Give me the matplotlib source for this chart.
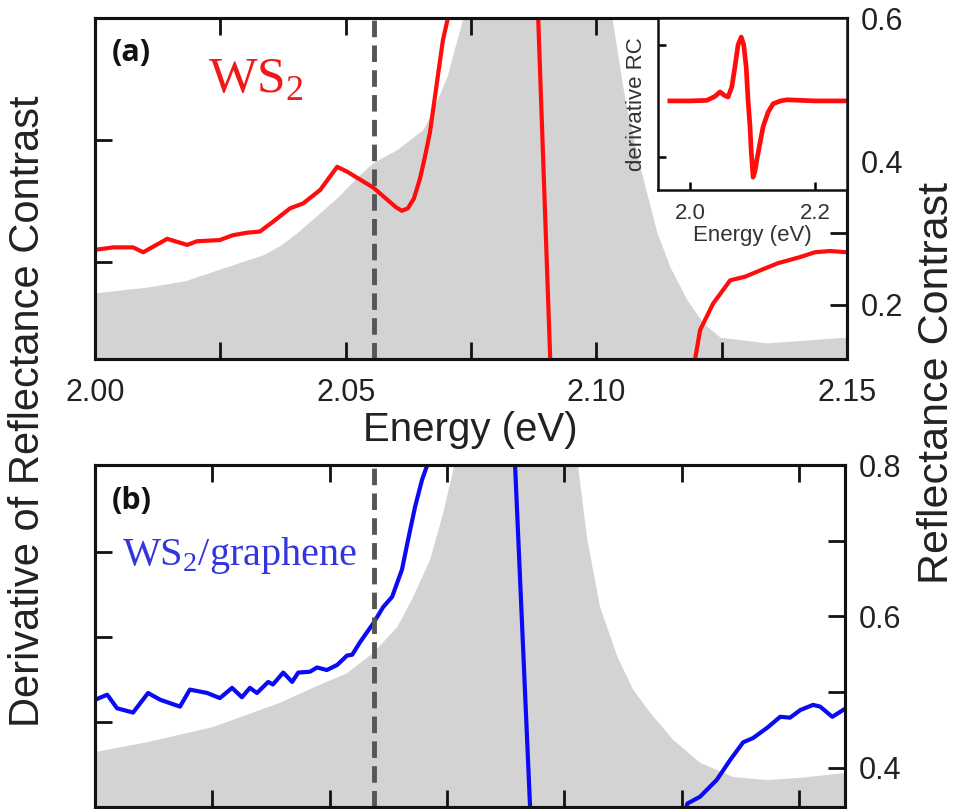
import matplotlib
matplotlib.use("Agg")
import matplotlib.pyplot as plt
from matplotlib.ticker import FixedLocator, NullFormatter

plt.rcParams['font.family'] = ['Liberation Sans', 'DejaVu Sans']
plt.rcParams['mathtext.fontset'] = 'custom'

# ---------------- data ----------------
# Panel (a): WS2
E_gray_top = [2.0, 2.0104, 2.0181, 2.0235, 2.0335, 2.0369, 2.0403, 2.0449, 2.0489, 2.0523,
              2.0555, 2.0602, 2.0654, 2.0674, 2.0702, 2.0722, 2.0734, 2.078, 2.088, 2.098,
              2.1031, 2.1057, 2.1087, 2.1121, 2.1147, 2.1181, 2.1213, 2.1247, 2.134, 2.1496,
              2.15]
R_gray_top = [0.217, 0.225, 0.234, 0.247, 0.270, 0.283, 0.301, 0.329, 0.354, 0.379,
              0.399, 0.417, 0.445, 0.473, 0.519, 0.571, 0.601, 0.75, 0.95, 0.75,
              0.601, 0.487, 0.393, 0.301, 0.253, 0.207, 0.175, 0.155, 0.147, 0.155,
              0.155]

E_red_top = [2.0000, 2.0036, 2.0076, 2.0096, 2.0144, 2.0184, 2.0203, 2.0249, 2.0275, 2.0303,
             2.0329, 2.0355, 2.0389, 2.0415, 2.0449, 2.0483, 2.0503, 2.0555, 2.0600, 2.0612,
             2.0624, 2.0636, 2.0648, 2.0658, 2.0668, 2.0682, 2.0694, 2.0704, 2.0720, 2.0780,
             2.0874, 2.0918, 2.1000, 2.1120, 2.1180, 2.1207, 2.1233, 2.1267, 2.1297, 2.1326,
             2.1362, 2.1406, 2.1436, 2.1466, 2.1500]
D_red_top = [0.10, 0.12, 0.12, 0.08, 0.19, 0.14, 0.17, 0.18, 0.22, 0.24,
             0.25, 0.33, 0.44, 0.48, 0.59, 0.78, 0.74, 0.61, 0.45, 0.42,
             0.44, 0.52, 0.68, 0.86, 1.06, 1.47, 1.82, 2.00, 2.6, 5.0,
             3.165, -1.96, -8.0, -4.0, -1.2, -0.557, -0.34, -0.15, -0.12, -0.07,
             -0.01, 0.04, 0.08, 0.09, 0.08]

# Inset: derivative RC over a wide range
E_inset = [1.968, 2.000, 2.027, 2.040, 2.048, 2.055, 2.061, 2.067, 2.072, 2.077,
           2.082, 2.086, 2.090, 2.093, 2.096, 2.098, 2.101, 2.104, 2.107, 2.112,
           2.117, 2.125, 2.133, 2.145, 2.155, 2.200, 2.251]
D_inset = [0.0, 0.0, 0.01, 0.08, 0.16, 0.10, 0.07, 0.25, 0.61, 1.0,
           1.14, 1.0, 0.6, 0.0, -0.45, -0.9, -1.36, -1.25, -1.05, -0.75,
           -0.46, -0.2, -0.05, 0.0, 0.02, 0.0, 0.0]

# Panel (b): WS2/graphene
E_gray_bot = [2.0, 2.0111, 2.0251, 2.0394, 2.0465, 2.0537, 2.0593, 2.0644, 2.0678, 2.0714,
              2.0742, 2.0763, 2.080, 2.090, 2.100, 2.1029, 2.1049, 2.1076, 2.1113, 2.1147,
              2.1183, 2.1232, 2.1289, 2.1360, 2.1432, 2.1503, 2.1594, 2.1598]
R_gray_bot = [0.421, 0.434, 0.454, 0.486, 0.506, 0.525, 0.552, 0.586, 0.626, 0.675,
              0.737, 0.793, 0.95, 1.1, 0.95, 0.80, 0.701, 0.613, 0.547, 0.503,
              0.473, 0.437, 0.407, 0.388, 0.384, 0.387, 0.393, 0.393]

E_blue = [2.0000, 2.0026, 2.0047, 2.0081, 2.0113, 2.0139, 2.0181, 2.0202, 2.0239, 2.0266,
          2.0292, 2.0313, 2.0330, 2.0345, 2.0369, 2.0379, 2.0401, 2.0420, 2.0433, 2.0458,
          2.0473, 2.0494, 2.0516, 2.0537, 2.0548, 2.0565, 2.0593, 2.0614, 2.0633, 2.0654,
          2.0667, 2.0682, 2.0697, 2.0708, 2.0740, 2.0800, 2.0885, 2.0937, 2.1000, 2.1150,
          2.1240, 2.1262, 2.1289, 2.1325, 2.1353, 2.1381, 2.1402, 2.1432, 2.1460, 2.1481,
          2.1503, 2.1530, 2.1545, 2.1571, 2.1594]
D_blue = [0.26, 0.32, 0.16, 0.11, 0.34, 0.26, 0.18, 0.38, 0.34, 0.28,
          0.40, 0.29, 0.40, 0.34, 0.47, 0.44, 0.58, 0.47, 0.58, 0.59,
          0.64, 0.61, 0.67, 0.78, 0.79, 0.94, 1.16, 1.35, 1.47, 1.79,
          2.14, 2.53, 2.85, 3.02, 4.0, 6.0, 4.28, -2.26, -8.0, -5.0,
          -1.5, -0.96, -0.88, -0.68, -0.45, -0.24, -0.19, -0.07, 0.06, 0.05,
          0.14, 0.20, 0.18, 0.06, 0.14]

E_dash_top = 2.0557
E_dash_bot = 2.0594

x_major_top = [2.00, 2.05, 2.10, 2.15]
x_labels_top = ['2.00', '2.05', '2.10', '2.15']
x_minor = [2.025, 2.075, 2.125]
x_major_bot = [2.05, 2.10, 2.15]

GRAY = '#d3d3d3'
TXT = '#222222'
SPW = 2.2

def style_ax(ax):
    for s in ax.spines.values():
        s.set_linewidth(SPW)
        s.set_color('#111111')

fig = plt.figure(figsize=(9.59, 8.09), dpi=100)

# ---------------- panel (a) ----------------
axR1 = fig.add_axes([0.0991, 0.5562, 0.7841, 0.4216])
axR1.fill_between(E_gray_top, R_gray_top, 0, color=GRAY, lw=0)
axR1.set_xlim(2.0, 2.15)
axR1.set_ylim(0.1245, 0.601)
axL1 = axR1.twinx()
axR1.yaxis.tick_right()
axL1.yaxis.tick_left()
axL1.plot(E_red_top, D_red_top, color='#ff0d0d', lw=3.0, solid_joinstyle='round')
axL1.axvline(E_dash_top, color='#555555', lw=3.5, ls=(0, (3.4, 1.7)))
axL1.set_ylim(-0.795, 2.0)
axL1.set_yticks([0, 1, 2])
axL1.set_yticklabels([])

axR1.xaxis.set_major_locator(FixedLocator(x_major_top))
axR1.set_xticklabels(x_labels_top)
axR1.xaxis.set_minor_locator(FixedLocator(x_minor))
axR1.set_yticks([0.2, 0.4, 0.6])
axR1.set_yticklabels(['0.2', '0.4', '0.6'])
axR1.yaxis.set_minor_locator(FixedLocator([0.3, 0.5]))
for ax in (axR1, axL1):
    ax.tick_params(which='both', direction='in', length=12, width=2.0, colors='#111111',
                   labelsize=22, labelcolor=TXT, pad=10)
axR1.tick_params(axis='x', which='both', top=True, bottom=True, pad=14)
style_ax(axR1); style_ax(axL1)

# ---------------- panel (b) ----------------
axR2 = fig.add_axes([0.0991, 0.0025, 0.782, 0.4227])
axR2.fill_between(E_gray_bot, R_gray_bot, 0, color=GRAY, lw=0)
axR2.set_xlim(2.0, 2.1598)
axR2.set_ylim(0.3485, 0.8)
axL2 = axR2.twinx()
axR2.yaxis.tick_right()
axL2.yaxis.tick_left()
axL2.plot(E_blue, D_blue, color='#0a0af5', lw=3.0, solid_joinstyle='round')
axL2.axvline(E_dash_bot, color='#555555', lw=3.5, ls=(0, (3.4, 1.7)))
axL2.set_ylim(-1.0, 3.02)
axL2.set_yticks([0, 1, 2])
axL2.set_yticklabels([])

axR2.xaxis.set_major_locator(FixedLocator(x_major_bot))
axR2.xaxis.set_minor_locator(FixedLocator(x_minor))
axR2.xaxis.set_major_formatter(NullFormatter())
axR2.set_yticks([0.4, 0.6, 0.8])
axR2.set_yticklabels(['0.4', '0.6', '0.8'])
axR2.yaxis.set_minor_locator(FixedLocator([0.5, 0.7]))
for ax in (axR2, axL2):
    ax.tick_params(which='both', direction='in', length=12, width=2.0, colors='#111111',
                   labelsize=22, labelcolor=TXT, pad=10)
axR2.tick_params(axis='x', which='both', top=True, bottom=True, labelbottom=False)
style_ax(axR2); style_ax(axL2)

# ---------------- inset ----------------
axi = fig.add_axes([0.6861, 0.7651, 0.1971, 0.2127])
axi.set_facecolor('white')
axi.plot(E_inset, D_inset, color='#ff0d0d', lw=3.4, solid_joinstyle='round')
axi.set_xlim(1.949, 2.251)
axi.set_ylim(-1.59, 1.48)
axi.set_xticks([2.0, 2.2])
axi.set_xticklabels(['2.0', '2.2'])
axi.set_yticks([-1, 1])
axi.set_yticklabels([])
axi.tick_params(direction='in', length=6, width=1.8, labelsize=16, labelcolor='#333333', pad=9)
axi.set_xlabel('Energy (eV)', fontsize=16, color='#333333', labelpad=1)
axi.set_ylabel('derivative RC', fontsize=16, color='#333333', labelpad=-1)
for s in axi.spines.values():
    s.set_linewidth(1.8)
    s.set_color('#111111')

# ---------------- texts ----------------
fig.text(470 / 959, 1 - 441 / 809, 'Energy (eV)', ha='center', va='baseline',
         fontsize=29, color=TXT)
fig.text(28 / 959, 1 - 411 / 809, 'Derivative of Reflectance Contrast', rotation=90,
         ha='center', va='center', fontsize=30, color=TXT)
fig.text(937 / 959, 1 - 383 / 809, 'Reflectance Contrast', rotation=90,
         ha='center', va='center', fontsize=31, color=TXT)

fig.text(112 / 959, 1 - 53 / 809, '(a)', ha='left', va='center', fontsize=22,
         fontweight='bold', family='Open Sans', color='#111111')
fig.text(112 / 959, 1 - 501 / 809, '(b)', ha='left', va='center', fontsize=22,
         fontweight='bold', family='Open Sans', color='#111111')
fig.text(208 / 959, 1 - 93 / 809, r'WS$_\mathregular{2}$', ha='left', va='baseline',
         fontsize=37, family='Liberation Serif', color='#f01818')
fig.text(122 / 959, 1 - 565 / 809, r'WS$_\mathregular{2}$/graphene', ha='left', va='baseline',
         fontsize=29, family='Liberation Serif', color='#3535e0')

fig.savefig('out.png', dpi=100)
